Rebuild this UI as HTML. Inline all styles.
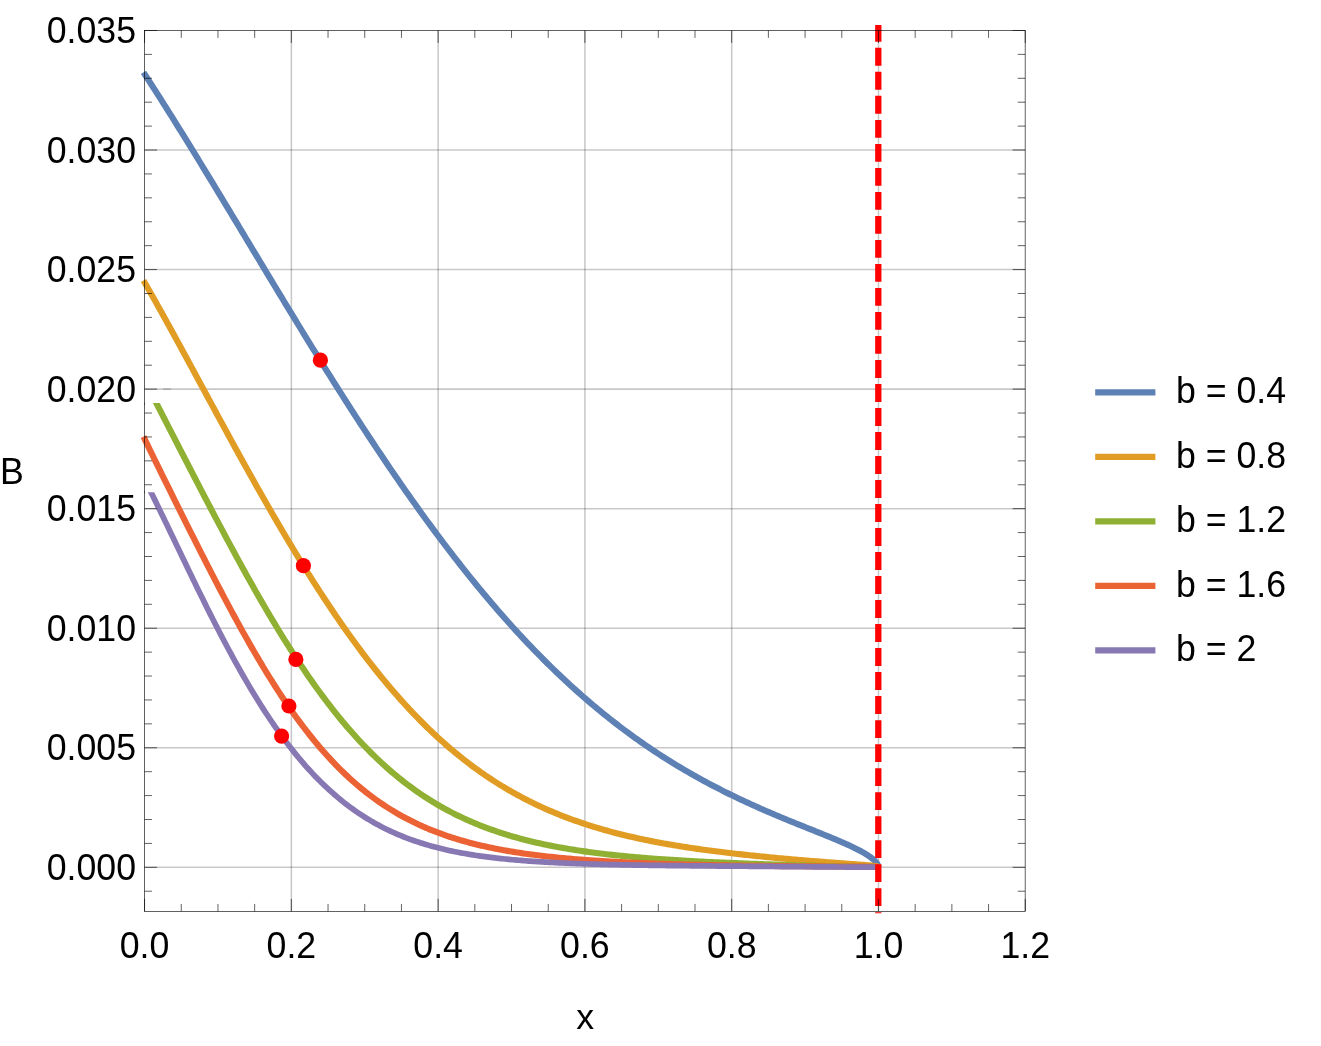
<!DOCTYPE html>
<html><head><meta charset="utf-8"><title>plot</title>
<style>html,body{margin:0;padding:0;background:#fff;overflow:hidden;}svg{display:block}text{font-family:"Liberation Sans",sans-serif;font-size:35.7px;fill:#000}</style>
</head><body>
<svg style="will-change:transform" width="1321" height="1046" viewBox="0 0 1321 1046">
<rect x="0" y="0" width="1321" height="1046" fill="#fff"/>
<g stroke="#000" stroke-opacity="0.215" stroke-width="1.55" fill="none">
<line x1="291.35" y1="30.47" x2="291.35" y2="911.33"/>
<line x1="438.13" y1="30.47" x2="438.13" y2="911.33"/>
<line x1="584.91" y1="30.47" x2="584.91" y2="911.33"/>
<line x1="731.69" y1="30.47" x2="731.69" y2="911.33"/>
<line x1="878.47" y1="30.47" x2="878.47" y2="911.33"/>
<line x1="144.57" y1="867.32" x2="1025.15" y2="867.32"/>
<line x1="144.57" y1="747.77" x2="1025.15" y2="747.77"/>
<line x1="144.57" y1="628.22" x2="1025.15" y2="628.22"/>
<line x1="144.57" y1="508.67" x2="1025.15" y2="508.67"/>
<line x1="144.57" y1="389.12" x2="1025.15" y2="389.12"/>
<line x1="144.57" y1="269.57" x2="1025.15" y2="269.57"/>
<line x1="144.57" y1="150.02" x2="1025.15" y2="150.02"/>
</g>
<defs><clipPath id="cg"><rect x="0" y="403.0" width="1321" height="700"/></clipPath><clipPath id="cp"><rect x="0" y="492.15" width="1321" height="700"/></clipPath></defs>
<path d="M143.50 72.39 L145.50 75.46 L147.50 78.54 L149.50 81.63 L151.50 84.73 L153.50 87.84 L155.50 90.95 L157.50 94.08 L159.50 97.22 L161.50 100.36 L163.50 103.52 L165.50 106.68 L167.50 109.85 L169.50 113.02 L171.50 116.21 L173.50 119.40 L175.50 122.60 L177.50 125.81 L179.50 129.02 L181.50 132.24 L183.50 135.47 L185.50 138.70 L187.50 141.94 L189.50 145.18 L191.50 148.43 L193.50 151.68 L195.50 154.94 L197.50 158.21 L199.50 161.48 L201.50 164.75 L203.50 168.03 L205.50 171.31 L207.50 174.59 L209.50 177.88 L211.50 181.18 L213.50 184.47 L215.50 187.77 L217.50 191.07 L219.50 194.38 L221.50 197.69 L223.50 201.00 L225.50 204.31 L227.50 207.62 L229.50 210.94 L231.50 214.25 L233.50 217.57 L235.50 220.89 L237.50 224.21 L239.50 227.54 L241.50 230.86 L243.50 234.18 L245.50 237.51 L247.50 240.83 L249.50 244.15 L251.50 247.48 L253.50 250.80 L255.50 254.12 L257.50 257.44 L259.50 260.76 L261.50 264.08 L263.50 267.40 L265.50 270.72 L267.50 274.04 L269.50 277.35 L271.50 280.66 L273.50 283.97 L275.50 287.28 L277.50 290.59 L279.50 293.89 L281.50 297.19 L283.50 300.49 L285.50 303.78 L287.50 307.07 L289.50 310.36 L291.50 313.65 L293.50 316.93 L295.50 320.21 L297.50 323.48 L299.50 326.75 L301.50 330.01 L303.50 333.27 L305.50 336.53 L307.50 339.78 L309.50 343.03 L311.50 346.27 L313.50 349.51 L315.50 352.74 L317.50 355.97 L319.50 359.19 L321.50 362.40 L323.50 365.61 L325.50 368.81 L327.50 372.01 L329.50 375.20 L331.50 378.39 L333.50 381.56 L335.50 384.74 L337.50 387.90 L339.50 391.06 L341.50 394.21 L343.50 397.35 L345.50 400.49 L347.50 403.62 L349.50 406.74 L351.50 409.86 L353.50 412.96 L355.50 416.06 L357.50 419.15 L359.50 422.23 L361.50 425.31 L363.50 428.37 L365.50 431.43 L367.50 434.48 L369.50 437.52 L371.50 440.55 L373.50 443.57 L375.50 446.59 L377.50 449.59 L379.50 452.58 L381.50 455.57 L383.50 458.55 L385.50 461.51 L387.50 464.47 L389.50 467.42 L391.50 470.36 L393.50 473.28 L395.50 476.20 L397.50 479.11 L399.50 482.01 L401.50 484.89 L403.50 487.77 L405.50 490.64 L407.50 493.49 L409.50 496.34 L411.50 499.17 L413.50 501.99 L415.50 504.81 L417.50 507.61 L419.50 510.40 L421.50 513.18 L423.50 515.94 L425.50 518.70 L427.50 521.45 L429.50 524.18 L431.50 526.90 L433.50 529.61 L435.50 532.31 L437.50 535.00 L439.50 537.68 L441.50 540.34 L443.50 542.99 L445.50 545.63 L447.50 548.26 L449.50 550.88 L451.50 553.48 L453.50 556.07 L455.50 558.65 L457.50 561.22 L459.50 563.77 L461.50 566.32 L463.50 568.85 L465.50 571.36 L467.50 573.87 L469.50 576.36 L471.50 578.84 L473.50 581.31 L475.50 583.76 L477.50 586.20 L479.50 588.63 L481.50 591.05 L483.50 593.45 L485.50 595.84 L487.50 598.22 L489.50 600.58 L491.50 602.93 L493.50 605.27 L495.50 607.60 L497.50 609.91 L499.50 612.21 L501.50 614.50 L503.50 616.77 L505.50 619.03 L507.50 621.28 L509.50 623.51 L511.50 625.73 L513.50 627.94 L515.50 630.13 L517.50 632.32 L519.50 634.48 L521.50 636.64 L523.50 638.78 L525.50 640.91 L527.50 643.02 L529.50 645.13 L531.50 647.22 L533.50 649.29 L535.50 651.35 L537.50 653.40 L539.50 655.44 L541.50 657.46 L543.50 659.47 L545.50 661.47 L547.50 663.45 L549.50 665.42 L551.50 667.38 L553.50 669.33 L555.50 671.26 L557.50 673.18 L559.50 675.08 L561.50 676.97 L563.50 678.85 L565.50 680.72 L567.50 682.57 L569.50 684.41 L571.50 686.24 L573.50 688.06 L575.50 689.86 L577.50 691.65 L579.50 693.42 L581.50 695.19 L583.50 696.94 L585.50 698.68 L587.50 700.40 L589.50 702.12 L591.50 703.82 L593.50 705.50 L595.50 707.18 L597.50 708.84 L599.50 710.49 L601.50 712.13 L603.50 713.76 L605.50 715.37 L607.50 716.97 L609.50 718.56 L611.50 720.14 L613.50 721.71 L615.50 723.26 L617.50 724.80 L619.50 726.33 L621.50 727.85 L623.50 729.36 L625.50 730.85 L627.50 732.33 L629.50 733.80 L631.50 735.26 L633.50 736.71 L635.50 738.15 L637.50 739.57 L639.50 740.99 L641.50 742.39 L643.50 743.78 L645.50 745.16 L647.50 746.53 L649.50 747.89 L651.50 749.24 L653.50 750.57 L655.50 751.90 L657.50 753.22 L659.50 754.52 L661.50 755.81 L663.50 757.10 L665.50 758.37 L667.50 759.63 L669.50 760.89 L671.50 762.13 L673.50 763.36 L675.50 764.58 L677.50 765.80 L679.50 767.00 L681.50 768.19 L683.50 769.37 L685.50 770.55 L687.50 771.71 L689.50 772.87 L691.50 774.01 L693.50 775.15 L695.50 776.27 L697.50 777.39 L699.50 778.50 L701.50 779.60 L703.50 780.69 L705.50 781.77 L707.50 782.85 L709.50 783.91 L711.50 784.97 L713.50 786.02 L715.50 787.06 L717.50 788.09 L719.50 789.11 L721.50 790.13 L723.50 791.14 L725.50 792.14 L727.50 793.13 L729.50 794.12 L731.50 795.09 L733.50 796.06 L735.50 797.03 L737.50 797.98 L739.50 798.93 L741.50 799.87 L743.50 800.81 L745.50 801.74 L747.50 802.66 L749.50 803.58 L751.50 804.49 L753.50 805.39 L755.50 806.29 L757.50 807.18 L759.50 808.07 L761.50 808.95 L763.50 809.82 L765.50 810.70 L767.50 811.56 L769.50 812.42 L771.50 813.28 L773.50 814.13 L775.50 814.97 L777.50 815.81 L779.50 816.65 L781.50 817.49 L783.50 818.32 L785.50 819.14 L787.50 819.97 L789.50 820.79 L791.50 821.60 L793.50 822.42 L795.50 823.23 L797.50 824.04 L799.50 824.85 L801.50 825.65 L803.50 826.46 L805.50 827.26 L807.50 828.06 L809.50 828.86 L811.50 829.67 L813.50 830.47 L815.50 831.27 L817.50 832.07 L819.50 832.88 L821.50 833.69 L823.50 834.50 L825.50 835.31 L827.50 836.12 L829.50 836.94 L831.50 837.77 L833.50 838.60 L835.50 839.44 L837.50 840.28 L839.50 841.13 L841.50 842.00 L843.50 842.87 L845.50 843.75 L847.50 844.65 L849.50 845.57 L851.50 846.50 L853.50 847.46 L855.50 848.44 L857.50 849.45 L859.50 850.49 L861.50 851.56 L863.50 852.69 L865.50 853.87 L867.50 855.12 L869.50 856.47 L870.47 857.17 L870.68 857.32 L870.88 857.47 L871.09 857.62 L871.29 857.78 L871.50 857.94 L871.70 858.10 L871.91 858.26 L872.11 858.43 L872.32 858.59 L872.52 858.76 L872.73 858.93 L872.93 859.10 L873.14 859.28 L873.34 859.46 L873.55 859.64 L873.75 859.83 L873.96 860.02 L874.16 860.21 L874.37 860.40 L874.57 860.60 L874.78 860.81 L874.98 861.02 L875.19 861.23 L875.39 861.45 L875.60 861.68 L875.80 861.91 L876.01 862.16 L876.21 862.41 L876.42 862.67 L876.62 862.94 L876.83 863.22 L877.03 863.52 L877.24 863.84 L877.44 864.18 L877.65 864.56 L877.85 864.97 L878.06 865.46 L878.26 866.06 L878.47 867.32" fill="none" stroke="#5E81B5" stroke-width="6.15" stroke-linejoin="round" stroke-linecap="butt"/>
<path d="M143.50 280.50 L145.50 283.98 L147.50 287.47 L149.50 290.98 L151.50 294.51 L153.50 298.05 L155.50 301.60 L157.50 305.17 L159.50 308.75 L161.50 312.34 L163.50 315.94 L165.50 319.55 L167.50 323.17 L169.50 326.80 L171.50 330.44 L173.50 334.08 L175.50 337.73 L177.50 341.39 L179.50 345.06 L181.50 348.73 L183.50 352.41 L185.50 356.09 L187.50 359.77 L189.50 363.46 L191.50 367.15 L193.50 370.84 L195.50 374.54 L197.50 378.23 L199.50 381.93 L201.50 385.63 L203.50 389.33 L205.50 393.03 L207.50 396.72 L209.50 400.42 L211.50 404.11 L213.50 407.81 L215.50 411.50 L217.50 415.18 L219.50 418.87 L221.50 422.55 L223.50 426.22 L225.50 429.89 L227.50 433.56 L229.50 437.22 L231.50 440.87 L233.50 444.52 L235.50 448.17 L237.50 451.80 L239.50 455.43 L241.50 459.05 L243.50 462.67 L245.50 466.27 L247.50 469.87 L249.50 473.46 L251.50 477.04 L253.50 480.60 L255.50 484.16 L257.50 487.71 L259.50 491.25 L261.50 494.78 L263.50 498.30 L265.50 501.80 L267.50 505.30 L269.50 508.78 L271.50 512.25 L273.50 515.70 L275.50 519.15 L277.50 522.58 L279.50 526.00 L281.50 529.40 L283.50 532.79 L285.50 536.17 L287.50 539.53 L289.50 542.87 L291.50 546.20 L293.50 549.52 L295.50 552.82 L297.50 556.10 L299.50 559.37 L301.50 562.62 L303.50 565.86 L305.50 569.08 L307.50 572.28 L309.50 575.46 L311.50 578.63 L313.50 581.78 L315.50 584.91 L317.50 588.03 L319.50 591.12 L321.50 594.20 L323.50 597.26 L325.50 600.30 L327.50 603.32 L329.50 606.32 L331.50 609.30 L333.50 612.27 L335.50 615.21 L337.50 618.13 L339.50 621.04 L341.50 623.92 L343.50 626.79 L345.50 629.63 L347.50 632.45 L349.50 635.25 L351.50 638.04 L353.50 640.80 L355.50 643.54 L357.50 646.25 L359.50 648.95 L361.50 651.63 L363.50 654.28 L365.50 656.92 L367.50 659.53 L369.50 662.12 L371.50 664.69 L373.50 667.23 L375.50 669.76 L377.50 672.26 L379.50 674.75 L381.50 677.20 L383.50 679.64 L385.50 682.06 L387.50 684.45 L389.50 686.82 L391.50 689.17 L393.50 691.50 L395.50 693.81 L397.50 696.09 L399.50 698.35 L401.50 700.59 L403.50 702.81 L405.50 705.00 L407.50 707.18 L409.50 709.33 L411.50 711.46 L413.50 713.56 L415.50 715.65 L417.50 717.71 L419.50 719.76 L421.50 721.78 L423.50 723.77 L425.50 725.75 L427.50 727.71 L429.50 729.64 L431.50 731.55 L433.50 733.44 L435.50 735.31 L437.50 737.16 L439.50 738.99 L441.50 740.79 L443.50 742.58 L445.50 744.34 L447.50 746.08 L449.50 747.81 L451.50 749.51 L453.50 751.19 L455.50 752.85 L457.50 754.49 L459.50 756.11 L461.50 757.72 L463.50 759.30 L465.50 760.86 L467.50 762.40 L469.50 763.92 L471.50 765.43 L473.50 766.91 L475.50 768.37 L477.50 769.82 L479.50 771.25 L481.50 772.66 L483.50 774.05 L485.50 775.42 L487.50 776.77 L489.50 778.11 L491.50 779.43 L493.50 780.73 L495.50 782.01 L497.50 783.27 L499.50 784.52 L501.50 785.75 L503.50 786.96 L505.50 788.16 L507.50 789.34 L509.50 790.51 L511.50 791.65 L513.50 792.78 L515.50 793.90 L517.50 795.00 L519.50 796.08 L521.50 797.15 L523.50 798.21 L525.50 799.24 L527.50 800.27 L529.50 801.27 L531.50 802.27 L533.50 803.25 L535.50 804.21 L537.50 805.16 L539.50 806.10 L541.50 807.02 L543.50 807.93 L545.50 808.83 L547.50 809.71 L549.50 810.58 L551.50 811.44 L553.50 812.28 L555.50 813.11 L557.50 813.93 L559.50 814.74 L561.50 815.53 L563.50 816.31 L565.50 817.08 L567.50 817.84 L569.50 818.59 L571.50 819.32 L573.50 820.05 L575.50 820.76 L577.50 821.47 L579.50 822.16 L581.50 822.84 L583.50 823.51 L585.50 824.17 L587.50 824.82 L589.50 825.46 L591.50 826.09 L593.50 826.71 L595.50 827.32 L597.50 827.93 L599.50 828.52 L601.50 829.10 L603.50 829.68 L605.50 830.24 L607.50 830.80 L609.50 831.35 L611.50 831.89 L613.50 832.42 L615.50 832.95 L617.50 833.46 L619.50 833.97 L621.50 834.47 L623.50 834.96 L625.50 835.45 L627.50 835.93 L629.50 836.40 L631.50 836.86 L633.50 837.32 L635.50 837.77 L637.50 838.21 L639.50 838.64 L641.50 839.07 L643.50 839.50 L645.50 839.91 L647.50 840.32 L649.50 840.73 L651.50 841.13 L653.50 841.52 L655.50 841.91 L657.50 842.29 L659.50 842.66 L661.50 843.03 L663.50 843.40 L665.50 843.76 L667.50 844.11 L669.50 844.46 L671.50 844.81 L673.50 845.15 L675.50 845.48 L677.50 845.81 L679.50 846.14 L681.50 846.46 L683.50 846.77 L685.50 847.09 L687.50 847.39 L689.50 847.70 L691.50 848.00 L693.50 848.29 L695.50 848.59 L697.50 848.87 L699.50 849.16 L701.50 849.44 L703.50 849.72 L705.50 849.99 L707.50 850.26 L709.50 850.53 L711.50 850.79 L713.50 851.05 L715.50 851.31 L717.50 851.56 L719.50 851.81 L721.50 852.06 L723.50 852.31 L725.50 852.55 L727.50 852.79 L729.50 853.02 L731.50 853.26 L733.50 853.49 L735.50 853.72 L737.50 853.94 L739.50 854.17 L741.50 854.39 L743.50 854.61 L745.50 854.82 L747.50 855.04 L749.50 855.25 L751.50 855.46 L753.50 855.67 L755.50 855.88 L757.50 856.08 L759.50 856.28 L761.50 856.48 L763.50 856.68 L765.50 856.88 L767.50 857.07 L769.50 857.26 L771.50 857.46 L773.50 857.64 L775.50 857.83 L777.50 858.02 L779.50 858.20 L781.50 858.39 L783.50 858.57 L785.50 858.75 L787.50 858.93 L789.50 859.10 L791.50 859.28 L793.50 859.45 L795.50 859.62 L797.50 859.80 L799.50 859.97 L801.50 860.13 L803.50 860.30 L805.50 860.47 L807.50 860.63 L809.50 860.80 L811.50 860.96 L813.50 861.12 L815.50 861.28 L817.50 861.44 L819.50 861.60 L821.50 861.75 L823.50 861.91 L825.50 862.07 L827.50 862.22 L829.50 862.37 L831.50 862.52 L833.50 862.68 L835.50 862.83 L837.50 862.98 L839.50 863.12 L841.50 863.27 L843.50 863.42 L845.50 863.57 L847.50 863.72 L849.50 863.86 L851.50 864.01 L853.50 864.16 L855.50 864.31 L857.50 864.46 L859.50 864.61 L861.50 864.76 L863.50 864.92 L865.50 865.08 L867.50 865.24 L869.50 865.42 L870.47 865.51 L870.68 865.53 L870.88 865.55 L871.09 865.57 L871.29 865.59 L871.50 865.61 L871.70 865.63 L871.91 865.65 L872.11 865.67 L872.32 865.69 L872.52 865.72 L872.73 865.74 L872.93 865.76 L873.14 865.78 L873.34 865.81 L873.55 865.83 L873.75 865.85 L873.96 865.88 L874.16 865.90 L874.37 865.93 L874.57 865.96 L874.78 865.98 L874.98 866.01 L875.19 866.04 L875.39 866.07 L875.60 866.10 L875.80 866.13 L876.01 866.17 L876.21 866.20 L876.42 866.24 L876.62 866.28 L876.83 866.32 L877.03 866.36 L877.24 866.41 L877.44 866.47 L877.65 866.53 L877.85 866.60 L878.06 866.69 L878.26 866.82 L878.47 867.31" fill="none" stroke="#E19C24" stroke-width="6.15" stroke-linejoin="round" stroke-linecap="butt"/>
<path d="M150.50 391.66 L156.50 403.37 L158.50 407.28 L160.50 411.18 L162.50 415.08 L164.50 418.98 L166.50 422.88 L168.50 426.78 L170.50 430.67 L172.50 434.57 L174.50 438.46 L176.50 442.35 L178.50 446.24 L180.50 450.12 L182.50 454.01 L184.50 457.89 L186.50 461.77 L188.50 465.64 L190.50 469.51 L192.50 473.38 L194.50 477.24 L196.50 481.10 L198.50 484.95 L200.50 488.80 L202.50 492.65 L204.50 496.48 L206.50 500.31 L208.50 504.14 L210.50 507.96 L212.50 511.76 L214.50 515.57 L216.50 519.36 L218.50 523.14 L220.50 526.92 L222.50 530.68 L224.50 534.43 L226.50 538.18 L228.50 541.91 L230.50 545.63 L232.50 549.33 L234.50 553.03 L236.50 556.71 L238.50 560.37 L240.50 564.03 L242.50 567.66 L244.50 571.29 L246.50 574.89 L248.50 578.48 L250.50 582.05 L252.50 585.61 L254.50 589.15 L256.50 592.66 L258.50 596.17 L260.50 599.65 L262.50 603.11 L264.50 606.55 L266.50 609.97 L268.50 613.37 L270.50 616.75 L272.50 620.11 L274.50 623.44 L276.50 626.75 L278.50 630.04 L280.50 633.31 L282.50 636.55 L284.50 639.76 L286.50 642.96 L288.50 646.13 L290.50 649.27 L292.50 652.39 L294.50 655.48 L296.50 658.54 L298.50 661.58 L300.50 664.60 L302.50 667.58 L304.50 670.54 L306.50 673.48 L308.50 676.38 L310.50 679.26 L312.50 682.11 L314.50 684.93 L316.50 687.72 L318.50 690.49 L320.50 693.22 L322.50 695.93 L324.50 698.61 L326.50 701.26 L328.50 703.88 L330.50 706.48 L332.50 709.04 L334.50 711.57 L336.50 714.08 L338.50 716.56 L340.50 719.00 L342.50 721.42 L344.50 723.81 L346.50 726.17 L348.50 728.50 L350.50 730.80 L352.50 733.07 L354.50 735.32 L356.50 737.53 L358.50 739.72 L360.50 741.87 L362.50 744.00 L364.50 746.10 L366.50 748.17 L368.50 750.21 L370.50 752.23 L372.50 754.21 L374.50 756.17 L376.50 758.10 L378.50 760.00 L380.50 761.88 L382.50 763.73 L384.50 765.55 L386.50 767.34 L388.50 769.11 L390.50 770.85 L392.50 772.56 L394.50 774.25 L396.50 775.91 L398.50 777.55 L400.50 779.16 L402.50 780.75 L404.50 782.31 L406.50 783.84 L408.50 785.35 L410.50 786.84 L412.50 788.30 L414.50 789.74 L416.50 791.16 L418.50 792.55 L420.50 793.92 L422.50 795.26 L424.50 796.59 L426.50 797.89 L428.50 799.17 L430.50 800.42 L432.50 801.66 L434.50 802.87 L436.50 804.07 L438.50 805.24 L440.50 806.39 L442.50 807.52 L444.50 808.63 L446.50 809.73 L448.50 810.80 L450.50 811.85 L452.50 812.89 L454.50 813.90 L456.50 814.90 L458.50 815.88 L460.50 816.84 L462.50 817.79 L464.50 818.71 L466.50 819.62 L468.50 820.52 L470.50 821.39 L472.50 822.25 L474.50 823.10 L476.50 823.93 L478.50 824.74 L480.50 825.54 L482.50 826.32 L484.50 827.09 L486.50 827.84 L488.50 828.58 L490.50 829.31 L492.50 830.02 L494.50 830.72 L496.50 831.40 L498.50 832.07 L500.50 832.73 L502.50 833.38 L504.50 834.01 L506.50 834.63 L508.50 835.24 L510.50 835.84 L512.50 836.43 L514.50 837.00 L516.50 837.57 L518.50 838.12 L520.50 838.66 L522.50 839.19 L524.50 839.71 L526.50 840.22 L528.50 840.72 L530.50 841.22 L532.50 841.70 L534.50 842.17 L536.50 842.63 L538.50 843.08 L540.50 843.53 L542.50 843.97 L544.50 844.39 L546.50 844.81 L548.50 845.22 L550.50 845.63 L552.50 846.02 L554.50 846.41 L556.50 846.79 L558.50 847.16 L560.50 847.53 L562.50 847.88 L564.50 848.23 L566.50 848.58 L568.50 848.92 L570.50 849.25 L572.50 849.57 L574.50 849.89 L576.50 850.20 L578.50 850.51 L580.50 850.81 L582.50 851.10 L584.50 851.39 L586.50 851.67 L588.50 851.95 L590.50 852.22 L592.50 852.49 L594.50 852.75 L596.50 853.01 L598.50 853.26 L600.50 853.51 L602.50 853.75 L604.50 853.99 L606.50 854.22 L608.50 854.45 L610.50 854.67 L612.50 854.89 L614.50 855.11 L616.50 855.32 L618.50 855.53 L620.50 855.73 L622.50 855.93 L624.50 856.13 L626.50 856.33 L628.50 856.52 L630.50 856.70 L632.50 856.88 L634.50 857.06 L636.50 857.24 L638.50 857.41 L640.50 857.58 L642.50 857.75 L644.50 857.92 L646.50 858.08 L648.50 858.24 L650.50 858.39 L652.50 858.55 L654.50 858.70 L656.50 858.84 L658.50 858.99 L660.50 859.13 L662.50 859.27 L664.50 859.41 L666.50 859.55 L668.50 859.68 L670.50 859.81 L672.50 859.94 L674.50 860.07 L676.50 860.19 L678.50 860.32 L680.50 860.44 L682.50 860.56 L684.50 860.67 L686.50 860.79 L688.50 860.90 L690.50 861.02 L692.50 861.13 L694.50 861.24 L696.50 861.34 L698.50 861.45 L700.50 861.55 L702.50 861.65 L704.50 861.75 L706.50 861.85 L708.50 861.95 L710.50 862.05 L712.50 862.14 L714.50 862.24 L716.50 862.33 L718.50 862.42 L720.50 862.51 L722.50 862.60 L724.50 862.69 L726.50 862.77 L728.50 862.86 L730.50 862.94 L732.50 863.02 L734.50 863.11 L736.50 863.19 L738.50 863.27 L740.50 863.35 L742.50 863.42 L744.50 863.50 L746.50 863.58 L748.50 863.65 L750.50 863.72 L752.50 863.80 L754.50 863.87 L756.50 863.94 L758.50 864.01 L760.50 864.08 L762.50 864.15 L764.50 864.22 L766.50 864.28 L768.50 864.35 L770.50 864.42 L772.50 864.48 L774.50 864.54 L776.50 864.61 L778.50 864.67 L780.50 864.73 L782.50 864.79 L784.50 864.85 L786.50 864.91 L788.50 864.97 L790.50 865.03 L792.50 865.09 L794.50 865.14 L796.50 865.20 L798.50 865.25 L800.50 865.31 L802.50 865.36 L804.50 865.42 L806.50 865.47 L808.50 865.52 L810.50 865.57 L812.50 865.62 L814.50 865.67 L816.50 865.72 L818.50 865.77 L820.50 865.82 L822.50 865.87 L824.50 865.91 L826.50 865.96 L828.50 866.01 L830.50 866.05 L832.50 866.10 L834.50 866.14 L836.50 866.18 L838.50 866.23 L840.50 866.27 L842.50 866.31 L844.50 866.35 L846.50 866.39 L848.50 866.44 L850.50 866.48 L852.50 866.52 L854.50 866.56 L856.50 866.60 L858.50 866.63 L860.50 866.67 L862.50 866.71 L864.50 866.75 L866.50 866.80 L868.50 866.84 L870.47 866.88 L870.68 866.89 L870.88 866.89 L871.09 866.90 L871.29 866.90 L871.50 866.91 L871.70 866.91 L871.91 866.92 L872.11 866.92 L872.32 866.93 L872.52 866.93 L872.73 866.94 L872.93 866.94 L873.14 866.95 L873.34 866.95 L873.55 866.96 L873.75 866.96 L873.96 866.97 L874.16 866.98 L874.37 866.98 L874.57 866.99 L874.78 867.00 L874.98 867.00 L875.19 867.01 L875.39 867.02 L875.60 867.02 L875.80 867.03 L876.01 867.04 L876.21 867.05 L876.42 867.05 L876.62 867.06 L876.83 867.07 L877.03 867.08 L877.24 867.10 L877.44 867.11 L877.65 867.12 L877.85 867.14 L878.06 867.16 L878.26 867.19 L878.47 867.32" fill="none" stroke="#8FB032" stroke-width="6.15" stroke-linejoin="round" stroke-linecap="butt" clip-path="url(#cg)"/>
<path d="M143.50 436.70 L145.50 440.83 L147.50 444.95 L149.50 449.07 L151.50 453.17 L153.50 457.26 L155.50 461.34 L157.50 465.41 L159.50 469.48 L161.50 473.53 L163.50 477.59 L165.50 481.63 L167.50 485.68 L169.50 489.71 L171.50 493.74 L173.50 497.77 L175.50 501.79 L177.50 505.81 L179.50 509.82 L181.50 513.82 L183.50 517.82 L185.50 521.82 L187.50 525.81 L189.50 529.79 L191.50 533.77 L193.50 537.74 L195.50 541.71 L197.50 545.66 L199.50 549.61 L201.50 553.55 L203.50 557.47 L205.50 561.39 L207.50 565.30 L209.50 569.20 L211.50 573.08 L213.50 576.95 L215.50 580.81 L217.50 584.65 L219.50 588.48 L221.50 592.29 L223.50 596.09 L225.50 599.87 L227.50 603.63 L229.50 607.38 L231.50 611.10 L233.50 614.80 L235.50 618.49 L237.50 622.15 L239.50 625.79 L241.50 629.40 L243.50 632.99 L245.50 636.56 L247.50 640.11 L249.50 643.62 L251.50 647.11 L253.50 650.58 L255.50 654.01 L257.50 657.42 L259.50 660.80 L261.50 664.15 L263.50 667.47 L265.50 670.76 L267.50 674.02 L269.50 677.25 L271.50 680.45 L273.50 683.61 L275.50 686.74 L277.50 689.84 L279.50 692.91 L281.50 695.94 L283.50 698.94 L285.50 701.91 L287.50 704.83 L289.50 707.73 L291.50 710.59 L293.50 713.42 L295.50 716.21 L297.50 718.96 L299.50 721.68 L301.50 724.36 L303.50 727.01 L305.50 729.62 L307.50 732.20 L309.50 734.74 L311.50 737.24 L313.50 739.71 L315.50 742.15 L317.50 744.54 L319.50 746.90 L321.50 749.23 L323.50 751.52 L325.50 753.78 L327.50 756.00 L329.50 758.18 L331.50 760.33 L333.50 762.45 L335.50 764.53 L337.50 766.58 L339.50 768.59 L341.50 770.57 L343.50 772.52 L345.50 774.43 L347.50 776.31 L349.50 778.16 L351.50 779.98 L353.50 781.76 L355.50 783.51 L357.50 785.23 L359.50 786.92 L361.50 788.58 L363.50 790.21 L365.50 791.80 L367.50 793.37 L369.50 794.91 L371.50 796.42 L373.50 797.90 L375.50 799.36 L377.50 800.78 L379.50 802.18 L381.50 803.55 L383.50 804.89 L385.50 806.21 L387.50 807.50 L389.50 808.77 L391.50 810.01 L393.50 811.22 L395.50 812.42 L397.50 813.58 L399.50 814.73 L401.50 815.85 L403.50 816.95 L405.50 818.02 L407.50 819.07 L409.50 820.10 L411.50 821.11 L413.50 822.10 L415.50 823.07 L417.50 824.02 L419.50 824.95 L421.50 825.86 L423.50 826.74 L425.50 827.62 L427.50 828.47 L429.50 829.30 L431.50 830.12 L433.50 830.91 L435.50 831.70 L437.50 832.46 L439.50 833.21 L441.50 833.94 L443.50 834.66 L445.50 835.36 L447.50 836.04 L449.50 836.71 L451.50 837.37 L453.50 838.01 L455.50 838.64 L457.50 839.25 L459.50 839.85 L461.50 840.44 L463.50 841.01 L465.50 841.57 L467.50 842.12 L469.50 842.66 L471.50 843.18 L473.50 843.70 L475.50 844.20 L477.50 844.69 L479.50 845.17 L481.50 845.64 L483.50 846.10 L485.50 846.55 L487.50 846.99 L489.50 847.42 L491.50 847.84 L493.50 848.25 L495.50 848.65 L497.50 849.04 L499.50 849.43 L501.50 849.80 L503.50 850.17 L505.50 850.53 L507.50 850.88 L509.50 851.23 L511.50 851.56 L513.50 851.89 L515.50 852.21 L517.50 852.53 L519.50 852.83 L521.50 853.13 L523.50 853.43 L525.50 853.72 L527.50 854.00 L529.50 854.27 L531.50 854.54 L533.50 854.81 L535.50 855.06 L537.50 855.31 L539.50 855.56 L541.50 855.80 L543.50 856.04 L545.50 856.27 L547.50 856.49 L549.50 856.71 L551.50 856.93 L553.50 857.14 L555.50 857.35 L557.50 857.55 L559.50 857.75 L561.50 857.94 L563.50 858.13 L565.50 858.32 L567.50 858.50 L569.50 858.68 L571.50 858.85 L573.50 859.02 L575.50 859.19 L577.50 859.35 L579.50 859.51 L581.50 859.67 L583.50 859.82 L585.50 859.97 L587.50 860.11 L589.50 860.26 L591.50 860.40 L593.50 860.54 L595.50 860.67 L597.50 860.80 L599.50 860.93 L601.50 861.06 L603.50 861.18 L605.50 861.30 L607.50 861.42 L609.50 861.54 L611.50 861.65 L613.50 861.76 L615.50 861.87 L617.50 861.98 L619.50 862.08 L621.50 862.18 L623.50 862.28 L625.50 862.38 L627.50 862.48 L629.50 862.57 L631.50 862.66 L633.50 862.75 L635.50 862.84 L637.50 862.93 L639.50 863.01 L641.50 863.10 L643.50 863.18 L645.50 863.26 L647.50 863.33 L649.50 863.41 L651.50 863.49 L653.50 863.56 L655.50 863.63 L657.50 863.70 L659.50 863.77 L661.50 863.84 L663.50 863.90 L665.50 863.97 L667.50 864.03 L669.50 864.09 L671.50 864.16 L673.50 864.22 L675.50 864.27 L677.50 864.33 L679.50 864.39 L681.50 864.44 L683.50 864.50 L685.50 864.55 L687.50 864.60 L689.50 864.65 L691.50 864.70 L693.50 864.75 L695.50 864.80 L697.50 864.84 L699.50 864.89 L701.50 864.93 L703.50 864.98 L705.50 865.02 L707.50 865.06 L709.50 865.10 L711.50 865.14 L713.50 865.18 L715.50 865.22 L717.50 865.26 L719.50 865.30 L721.50 865.33 L723.50 865.37 L725.50 865.40 L727.50 865.44 L729.50 865.47 L731.50 865.50 L733.50 865.53 L735.50 865.56 L737.50 865.59 L739.50 865.62 L741.50 865.65 L743.50 865.68 L745.50 865.71 L747.50 865.74 L749.50 865.76 L751.50 865.79 L753.50 865.82 L755.50 865.84 L757.50 865.86 L759.50 865.89 L761.50 865.91 L763.50 865.93 L765.50 865.96 L767.50 865.98 L769.50 866.00 L771.50 866.02 L773.50 866.04 L775.50 866.06 L777.50 866.08 L779.50 866.10 L781.50 866.12 L783.50 866.14 L785.50 866.15 L787.50 866.17 L789.50 866.19 L791.50 866.21 L793.50 866.22 L795.50 866.24 L797.50 866.25 L799.50 866.27 L801.50 866.28 L803.50 866.30 L805.50 866.31 L807.50 866.32 L809.50 866.34 L811.50 866.35 L813.50 866.36 L815.50 866.38 L817.50 866.39 L819.50 866.40 L821.50 866.41 L823.50 866.43 L825.50 866.44 L827.50 866.45 L829.50 866.46 L831.50 866.47 L833.50 866.48 L835.50 866.49 L837.50 866.51 L839.50 866.52 L841.50 866.53 L843.50 866.54 L845.50 866.55 L847.50 866.56 L849.50 866.57 L851.50 866.59 L853.50 866.60 L855.50 866.61 L857.50 866.63 L859.50 866.65 L861.50 866.66 L863.50 866.68 L865.50 866.70 L867.50 866.73 L869.50 866.76 L870.47 866.77 L870.68 866.78 L870.88 866.78 L871.09 866.78 L871.29 866.79 L871.50 866.79 L871.70 866.80 L871.91 866.80 L872.11 866.80 L872.32 866.81 L872.52 866.81 L872.73 866.82 L872.93 866.82 L873.14 866.83 L873.34 866.83 L873.55 866.84 L873.75 866.84 L873.96 866.85 L874.16 866.86 L874.37 866.86 L874.57 866.87 L874.78 866.88 L874.98 866.88 L875.19 866.89 L875.39 866.90 L875.60 866.91 L875.80 866.91 L876.01 866.92 L876.21 866.93 L876.42 866.94 L876.62 866.95 L876.83 866.97 L877.03 866.98 L877.24 867.00 L877.44 867.01 L877.65 867.03 L877.85 867.06 L878.06 867.09 L878.26 867.13 L878.47 867.32" fill="none" stroke="#EB6235" stroke-width="6.15" stroke-linejoin="round" stroke-linecap="butt"/>
<path d="M144.90 479.88 L150.90 492.01 L152.90 496.05 L154.90 500.12 L156.90 504.20 L158.90 508.30 L160.90 512.41 L162.90 516.54 L164.90 520.68 L166.90 524.83 L168.90 528.99 L170.90 533.15 L172.90 537.32 L174.90 541.49 L176.90 545.66 L178.90 549.84 L180.90 554.01 L182.90 558.17 L184.90 562.34 L186.90 566.49 L188.90 570.64 L190.90 574.78 L192.90 578.91 L194.90 583.02 L196.90 587.13 L198.90 591.21 L200.90 595.29 L202.90 599.34 L204.90 603.38 L206.90 607.40 L208.90 611.39 L210.90 615.37 L212.90 619.32 L214.90 623.25 L216.90 627.16 L218.90 631.04 L220.90 634.89 L222.90 638.71 L224.90 642.51 L226.90 646.28 L228.90 650.01 L230.90 653.72 L232.90 657.40 L234.90 661.04 L236.90 664.65 L238.90 668.23 L240.90 671.77 L242.90 675.28 L244.90 678.75 L246.90 682.19 L248.90 685.59 L250.90 688.95 L252.90 692.28 L254.90 695.57 L256.90 698.82 L258.90 702.04 L260.90 705.21 L262.90 708.35 L264.90 711.44 L266.90 714.50 L268.90 717.52 L270.90 720.50 L272.90 723.44 L274.90 726.34 L276.90 729.20 L278.90 732.02 L280.90 734.80 L282.90 737.53 L284.90 740.23 L286.90 742.89 L288.90 745.51 L290.90 748.09 L292.90 750.62 L294.90 753.12 L296.90 755.58 L298.90 758.00 L300.90 760.38 L302.90 762.72 L304.90 765.02 L306.90 767.28 L308.90 769.50 L310.90 771.68 L312.90 773.83 L314.90 775.94 L316.90 778.01 L318.90 780.04 L320.90 782.03 L322.90 783.99 L324.90 785.91 L326.90 787.80 L328.90 789.65 L330.90 791.46 L332.90 793.24 L334.90 794.98 L336.90 796.69 L338.90 798.37 L340.90 800.01 L342.90 801.62 L344.90 803.19 L346.90 804.74 L348.90 806.25 L350.90 807.73 L352.90 809.17 L354.90 810.59 L356.90 811.98 L358.90 813.34 L360.90 814.66 L362.90 815.96 L364.90 817.23 L366.90 818.47 L368.90 819.69 L370.90 820.87 L372.90 822.03 L374.90 823.17 L376.90 824.28 L378.90 825.36 L380.90 826.41 L382.90 827.45 L384.90 828.46 L386.90 829.44 L388.90 830.40 L390.90 831.34 L392.90 832.26 L394.90 833.15 L396.90 834.02 L398.90 834.87 L400.90 835.70 L402.90 836.51 L404.90 837.30 L406.90 838.07 L408.90 838.83 L410.90 839.56 L412.90 840.27 L414.90 840.97 L416.90 841.65 L418.90 842.31 L420.90 842.95 L422.90 843.58 L424.90 844.19 L426.90 844.79 L428.90 845.37 L430.90 845.94 L432.90 846.49 L434.90 847.02 L436.90 847.55 L438.90 848.06 L440.90 848.55 L442.90 849.03 L444.90 849.50 L446.90 849.96 L448.90 850.41 L450.90 850.84 L452.90 851.26 L454.90 851.67 L456.90 852.07 L458.90 852.46 L460.90 852.84 L462.90 853.21 L464.90 853.56 L466.90 853.91 L468.90 854.25 L470.90 854.58 L472.90 854.90 L474.90 855.21 L476.90 855.52 L478.90 855.81 L480.90 856.10 L482.90 856.38 L484.90 856.65 L486.90 856.91 L488.90 857.17 L490.90 857.42 L492.90 857.66 L494.90 857.90 L496.90 858.13 L498.90 858.35 L500.90 858.57 L502.90 858.78 L504.90 858.98 L506.90 859.18 L508.90 859.38 L510.90 859.56 L512.90 859.75 L514.90 859.93 L516.90 860.10 L518.90 860.27 L520.90 860.43 L522.90 860.59 L524.90 860.75 L526.90 860.90 L528.90 861.04 L530.90 861.18 L532.90 861.32 L534.90 861.46 L536.90 861.59 L538.90 861.72 L540.90 861.84 L542.90 861.96 L544.90 862.08 L546.90 862.19 L548.90 862.30 L550.90 862.41 L552.90 862.51 L554.90 862.62 L556.90 862.71 L558.90 862.81 L560.90 862.90 L562.90 863.00 L564.90 863.08 L566.90 863.17 L568.90 863.25 L570.90 863.34 L572.90 863.41 L574.90 863.49 L576.90 863.57 L578.90 863.64 L580.90 863.71 L582.90 863.78 L584.90 863.85 L586.90 863.91 L588.90 863.98 L590.90 864.04 L592.90 864.10 L594.90 864.16 L596.90 864.22 L598.90 864.27 L600.90 864.33 L602.90 864.38 L604.90 864.43 L606.90 864.48 L608.90 864.53 L610.90 864.58 L612.90 864.62 L614.90 864.67 L616.90 864.71 L618.90 864.76 L620.90 864.80 L622.90 864.84 L624.90 864.88 L626.90 864.92 L628.90 864.96 L630.90 864.99 L632.90 865.03 L634.90 865.07 L636.90 865.10 L638.90 865.13 L640.90 865.17 L642.90 865.20 L644.90 865.23 L646.90 865.26 L648.90 865.29 L650.90 865.32 L652.90 865.35 L654.90 865.38 L656.90 865.40 L658.90 865.43 L660.90 865.46 L662.90 865.48 L664.90 865.51 L666.90 865.53 L668.90 865.56 L670.90 865.58 L672.90 865.60 L674.90 865.62 L676.90 865.65 L678.90 865.67 L680.90 865.69 L682.90 865.71 L684.90 865.73 L686.90 865.75 L688.90 865.77 L690.90 865.79 L692.90 865.81 L694.90 865.83 L696.90 865.85 L698.90 865.87 L700.90 865.89 L702.90 865.90 L704.90 865.92 L706.90 865.94 L708.90 865.96 L710.90 865.97 L712.90 865.99 L714.90 866.01 L716.90 866.03 L718.90 866.04 L720.90 866.06 L722.90 866.07 L724.90 866.09 L726.90 866.11 L728.90 866.12 L730.90 866.14 L732.90 866.15 L734.90 866.17 L736.90 866.19 L738.90 866.20 L740.90 866.22 L742.90 866.23 L744.90 866.25 L746.90 866.26 L748.90 866.28 L750.90 866.29 L752.90 866.31 L754.90 866.33 L756.90 866.34 L758.90 866.36 L760.90 866.37 L762.90 866.39 L764.90 866.40 L766.90 866.42 L768.90 866.43 L770.90 866.45 L772.90 866.47 L774.90 866.48 L776.90 866.50 L778.90 866.51 L780.90 866.53 L782.90 866.55 L784.90 866.56 L786.90 866.58 L788.90 866.59 L790.90 866.61 L792.90 866.63 L794.90 866.64 L796.90 866.66 L798.90 866.67 L800.90 866.69 L802.90 866.71 L804.90 866.72 L806.90 866.74 L808.90 866.76 L810.90 866.77 L812.90 866.79 L814.90 866.80 L816.90 866.82 L818.90 866.84 L820.90 866.85 L822.90 866.87 L824.90 866.88 L826.90 866.90 L828.90 866.91 L830.90 866.93 L832.90 866.95 L834.90 866.96 L836.90 866.98 L838.90 866.99 L840.90 867.01 L842.90 867.02 L844.90 867.04 L846.90 867.05 L848.90 867.06 L850.90 867.08 L852.90 867.09 L854.90 867.11 L856.90 867.12 L858.90 867.13 L860.90 867.15 L862.90 867.16 L864.90 867.17 L866.90 867.18 L868.90 867.20 L870.47 867.21 L870.68 867.21 L870.88 867.21 L871.09 867.21 L871.29 867.21 L871.50 867.22 L871.70 867.22 L871.91 867.22 L872.11 867.22 L872.32 867.22 L872.52 867.22 L872.73 867.22 L872.93 867.23 L873.14 867.23 L873.34 867.23 L873.55 867.23 L873.75 867.23 L873.96 867.23 L874.16 867.23 L874.37 867.24 L874.57 867.24 L874.78 867.24 L874.98 867.24 L875.19 867.24 L875.39 867.25 L875.60 867.25 L875.80 867.25 L876.01 867.25 L876.21 867.25 L876.42 867.26 L876.62 867.26 L876.83 867.26 L877.03 867.26 L877.24 867.27 L877.44 867.27 L877.65 867.27 L877.85 867.28 L878.06 867.28 L878.26 867.29 L878.47 867.32" fill="none" stroke="#8778B3" stroke-width="5.70" stroke-linejoin="round" stroke-linecap="butt" clip-path="url(#cp)"/>
<circle cx="320.40" cy="360.20" r="7.60" fill="#ff0000"/>
<circle cx="303.40" cy="565.70" r="7.60" fill="#ff0000"/>
<circle cx="295.85" cy="659.40" r="7.60" fill="#ff0000"/>
<circle cx="288.90" cy="706.00" r="7.60" fill="#ff0000"/>
<circle cx="281.60" cy="736.10" r="7.60" fill="#ff0000"/>
<line x1="878.3" y1="25.1" x2="878.3" y2="913.3" stroke="#ff0000" stroke-width="6.3" stroke-dasharray="17.9 6.11" stroke-dashoffset="1.26"/>
<line x1="163" y1="389.12" x2="171" y2="389.12" stroke="#999" stroke-width="1.1"/>
<g stroke="#000" stroke-width="0.62" fill="none">
<rect x="144.57" y="30.47" width="880.58" height="880.86"/>
<line x1="144.57" y1="911.33" x2="144.57" y2="898.83"/>
<line x1="144.57" y1="30.47" x2="144.57" y2="42.97"/>
<line x1="181.26" y1="911.33" x2="181.26" y2="903.93"/>
<line x1="181.26" y1="30.47" x2="181.26" y2="37.87"/>
<line x1="217.96" y1="911.33" x2="217.96" y2="903.93"/>
<line x1="217.96" y1="30.47" x2="217.96" y2="37.87"/>
<line x1="254.66" y1="911.33" x2="254.66" y2="903.93"/>
<line x1="254.66" y1="30.47" x2="254.66" y2="37.87"/>
<line x1="291.35" y1="911.33" x2="291.35" y2="898.83"/>
<line x1="291.35" y1="30.47" x2="291.35" y2="42.97"/>
<line x1="328.04" y1="911.33" x2="328.04" y2="903.93"/>
<line x1="328.04" y1="30.47" x2="328.04" y2="37.87"/>
<line x1="364.74" y1="911.33" x2="364.74" y2="903.93"/>
<line x1="364.74" y1="30.47" x2="364.74" y2="37.87"/>
<line x1="401.44" y1="911.33" x2="401.44" y2="903.93"/>
<line x1="401.44" y1="30.47" x2="401.44" y2="37.87"/>
<line x1="438.13" y1="911.33" x2="438.13" y2="898.83"/>
<line x1="438.13" y1="30.47" x2="438.13" y2="42.97"/>
<line x1="474.82" y1="911.33" x2="474.82" y2="903.93"/>
<line x1="474.82" y1="30.47" x2="474.82" y2="37.87"/>
<line x1="511.52" y1="911.33" x2="511.52" y2="903.93"/>
<line x1="511.52" y1="30.47" x2="511.52" y2="37.87"/>
<line x1="548.22" y1="911.33" x2="548.22" y2="903.93"/>
<line x1="548.22" y1="30.47" x2="548.22" y2="37.87"/>
<line x1="584.91" y1="911.33" x2="584.91" y2="898.83"/>
<line x1="584.91" y1="30.47" x2="584.91" y2="42.97"/>
<line x1="621.61" y1="911.33" x2="621.61" y2="903.93"/>
<line x1="621.61" y1="30.47" x2="621.61" y2="37.87"/>
<line x1="658.30" y1="911.33" x2="658.30" y2="903.93"/>
<line x1="658.30" y1="30.47" x2="658.30" y2="37.87"/>
<line x1="694.99" y1="911.33" x2="694.99" y2="903.93"/>
<line x1="694.99" y1="30.47" x2="694.99" y2="37.87"/>
<line x1="731.69" y1="911.33" x2="731.69" y2="898.83"/>
<line x1="731.69" y1="30.47" x2="731.69" y2="42.97"/>
<line x1="768.38" y1="911.33" x2="768.38" y2="903.93"/>
<line x1="768.38" y1="30.47" x2="768.38" y2="37.87"/>
<line x1="805.08" y1="911.33" x2="805.08" y2="903.93"/>
<line x1="805.08" y1="30.47" x2="805.08" y2="37.87"/>
<line x1="841.78" y1="911.33" x2="841.78" y2="903.93"/>
<line x1="841.78" y1="30.47" x2="841.78" y2="37.87"/>
<line x1="878.47" y1="911.33" x2="878.47" y2="898.83"/>
<line x1="878.47" y1="30.47" x2="878.47" y2="42.97"/>
<line x1="915.16" y1="911.33" x2="915.16" y2="903.93"/>
<line x1="915.16" y1="30.47" x2="915.16" y2="37.87"/>
<line x1="951.86" y1="911.33" x2="951.86" y2="903.93"/>
<line x1="951.86" y1="30.47" x2="951.86" y2="37.87"/>
<line x1="988.56" y1="911.33" x2="988.56" y2="903.93"/>
<line x1="988.56" y1="30.47" x2="988.56" y2="37.87"/>
<line x1="1025.25" y1="911.33" x2="1025.25" y2="898.83"/>
<line x1="1025.25" y1="30.47" x2="1025.25" y2="42.97"/>
<line x1="144.57" y1="891.23" x2="151.97" y2="891.23"/>
<line x1="1025.15" y1="891.23" x2="1017.75" y2="891.23"/>
<line x1="144.57" y1="867.32" x2="157.07" y2="867.32"/>
<line x1="1025.15" y1="867.32" x2="1012.65" y2="867.32"/>
<line x1="144.57" y1="843.41" x2="151.97" y2="843.41"/>
<line x1="1025.15" y1="843.41" x2="1017.75" y2="843.41"/>
<line x1="144.57" y1="819.50" x2="151.97" y2="819.50"/>
<line x1="1025.15" y1="819.50" x2="1017.75" y2="819.50"/>
<line x1="144.57" y1="795.59" x2="151.97" y2="795.59"/>
<line x1="1025.15" y1="795.59" x2="1017.75" y2="795.59"/>
<line x1="144.57" y1="771.68" x2="151.97" y2="771.68"/>
<line x1="1025.15" y1="771.68" x2="1017.75" y2="771.68"/>
<line x1="144.57" y1="747.77" x2="157.07" y2="747.77"/>
<line x1="1025.15" y1="747.77" x2="1012.65" y2="747.77"/>
<line x1="144.57" y1="723.86" x2="151.97" y2="723.86"/>
<line x1="1025.15" y1="723.86" x2="1017.75" y2="723.86"/>
<line x1="144.57" y1="699.95" x2="151.97" y2="699.95"/>
<line x1="1025.15" y1="699.95" x2="1017.75" y2="699.95"/>
<line x1="144.57" y1="676.04" x2="151.97" y2="676.04"/>
<line x1="1025.15" y1="676.04" x2="1017.75" y2="676.04"/>
<line x1="144.57" y1="652.13" x2="151.97" y2="652.13"/>
<line x1="1025.15" y1="652.13" x2="1017.75" y2="652.13"/>
<line x1="144.57" y1="628.22" x2="157.07" y2="628.22"/>
<line x1="1025.15" y1="628.22" x2="1012.65" y2="628.22"/>
<line x1="144.57" y1="604.31" x2="151.97" y2="604.31"/>
<line x1="1025.15" y1="604.31" x2="1017.75" y2="604.31"/>
<line x1="144.57" y1="580.40" x2="151.97" y2="580.40"/>
<line x1="1025.15" y1="580.40" x2="1017.75" y2="580.40"/>
<line x1="144.57" y1="556.49" x2="151.97" y2="556.49"/>
<line x1="1025.15" y1="556.49" x2="1017.75" y2="556.49"/>
<line x1="144.57" y1="532.58" x2="151.97" y2="532.58"/>
<line x1="1025.15" y1="532.58" x2="1017.75" y2="532.58"/>
<line x1="144.57" y1="508.67" x2="157.07" y2="508.67"/>
<line x1="1025.15" y1="508.67" x2="1012.65" y2="508.67"/>
<line x1="144.57" y1="484.76" x2="151.97" y2="484.76"/>
<line x1="1025.15" y1="484.76" x2="1017.75" y2="484.76"/>
<line x1="144.57" y1="460.85" x2="151.97" y2="460.85"/>
<line x1="1025.15" y1="460.85" x2="1017.75" y2="460.85"/>
<line x1="144.57" y1="436.94" x2="151.97" y2="436.94"/>
<line x1="1025.15" y1="436.94" x2="1017.75" y2="436.94"/>
<line x1="144.57" y1="413.03" x2="151.97" y2="413.03"/>
<line x1="1025.15" y1="413.03" x2="1017.75" y2="413.03"/>
<line x1="144.57" y1="389.12" x2="157.07" y2="389.12"/>
<line x1="1025.15" y1="389.12" x2="1012.65" y2="389.12"/>
<line x1="144.57" y1="365.21" x2="151.97" y2="365.21"/>
<line x1="1025.15" y1="365.21" x2="1017.75" y2="365.21"/>
<line x1="144.57" y1="341.30" x2="151.97" y2="341.30"/>
<line x1="1025.15" y1="341.30" x2="1017.75" y2="341.30"/>
<line x1="144.57" y1="317.39" x2="151.97" y2="317.39"/>
<line x1="1025.15" y1="317.39" x2="1017.75" y2="317.39"/>
<line x1="144.57" y1="293.48" x2="151.97" y2="293.48"/>
<line x1="1025.15" y1="293.48" x2="1017.75" y2="293.48"/>
<line x1="144.57" y1="269.57" x2="157.07" y2="269.57"/>
<line x1="1025.15" y1="269.57" x2="1012.65" y2="269.57"/>
<line x1="144.57" y1="245.66" x2="151.97" y2="245.66"/>
<line x1="1025.15" y1="245.66" x2="1017.75" y2="245.66"/>
<line x1="144.57" y1="221.75" x2="151.97" y2="221.75"/>
<line x1="1025.15" y1="221.75" x2="1017.75" y2="221.75"/>
<line x1="144.57" y1="197.84" x2="151.97" y2="197.84"/>
<line x1="1025.15" y1="197.84" x2="1017.75" y2="197.84"/>
<line x1="144.57" y1="173.93" x2="151.97" y2="173.93"/>
<line x1="1025.15" y1="173.93" x2="1017.75" y2="173.93"/>
<line x1="144.57" y1="150.02" x2="157.07" y2="150.02"/>
<line x1="1025.15" y1="150.02" x2="1012.65" y2="150.02"/>
<line x1="144.57" y1="126.11" x2="151.97" y2="126.11"/>
<line x1="1025.15" y1="126.11" x2="1017.75" y2="126.11"/>
<line x1="144.57" y1="102.20" x2="151.97" y2="102.20"/>
<line x1="1025.15" y1="102.20" x2="1017.75" y2="102.20"/>
<line x1="144.57" y1="78.29" x2="151.97" y2="78.29"/>
<line x1="1025.15" y1="78.29" x2="1017.75" y2="78.29"/>
<line x1="144.57" y1="54.38" x2="151.97" y2="54.38"/>
<line x1="1025.15" y1="54.38" x2="1017.75" y2="54.38"/>
<line x1="144.57" y1="30.47" x2="157.07" y2="30.47"/>
<line x1="1025.15" y1="30.47" x2="1012.65" y2="30.47"/>
</g>
<rect x="144.12" y="402.60" width="0.9" height="2.2" fill="#000" fill-opacity="0.45"/>
<rect x="144.12" y="491.00" width="0.9" height="2.2" fill="#000" fill-opacity="0.45"/>
<text transform="translate(144.57 958.30) scale(1 1.045)" text-anchor="middle">0.0</text>
<text transform="translate(291.35 958.30) scale(1 1.045)" text-anchor="middle">0.2</text>
<text transform="translate(438.13 958.30) scale(1 1.045)" text-anchor="middle">0.4</text>
<text transform="translate(584.91 958.30) scale(1 1.045)" text-anchor="middle">0.6</text>
<text transform="translate(731.69 958.30) scale(1 1.045)" text-anchor="middle">0.8</text>
<text transform="translate(878.47 958.30) scale(1 1.045)" text-anchor="middle">1.0</text>
<text transform="translate(1025.25 958.30) scale(1 1.045)" text-anchor="middle">1.2</text>
<text transform="translate(136.00 879.92) scale(1 1.045)" text-anchor="end">0.000</text>
<text transform="translate(136.00 760.37) scale(1 1.045)" text-anchor="end">0.005</text>
<text transform="translate(136.00 640.82) scale(1 1.045)" text-anchor="end">0.010</text>
<text transform="translate(136.00 521.27) scale(1 1.045)" text-anchor="end">0.015</text>
<text transform="translate(136.00 401.72) scale(1 1.045)" text-anchor="end">0.020</text>
<text transform="translate(136.00 282.17) scale(1 1.045)" text-anchor="end">0.025</text>
<text transform="translate(136.00 162.62) scale(1 1.045)" text-anchor="end">0.030</text>
<text transform="translate(136.00 43.07) scale(1 1.045)" text-anchor="end">0.035</text>
<text transform="translate(585.20 1028.70) scale(1 1.000)" text-anchor="middle">x</text>
<text transform="translate(0.00 483.70) scale(1 1.045)" text-anchor="start">B</text>
<line x1="1095.2" y1="392.30" x2="1155.4" y2="392.30" stroke="#5E81B5" stroke-width="6.3"/>
<text transform="translate(1176.00 403.00) scale(1 1.045)" text-anchor="start">b = 0.4</text>
<line x1="1095.2" y1="456.80" x2="1155.4" y2="456.80" stroke="#E19C24" stroke-width="6.3"/>
<text transform="translate(1176.00 467.50) scale(1 1.045)" text-anchor="start">b = 0.8</text>
<line x1="1095.2" y1="521.30" x2="1155.4" y2="521.30" stroke="#8FB032" stroke-width="6.3"/>
<text transform="translate(1176.00 532.00) scale(1 1.045)" text-anchor="start">b = 1.2</text>
<line x1="1095.2" y1="585.80" x2="1155.4" y2="585.80" stroke="#EB6235" stroke-width="6.3"/>
<text transform="translate(1176.00 596.50) scale(1 1.045)" text-anchor="start">b = 1.6</text>
<line x1="1095.2" y1="650.30" x2="1155.4" y2="650.30" stroke="#8778B3" stroke-width="6.3"/>
<text transform="translate(1176.00 661.00) scale(1 1.045)" text-anchor="start">b = 2</text>
</svg></body></html>
